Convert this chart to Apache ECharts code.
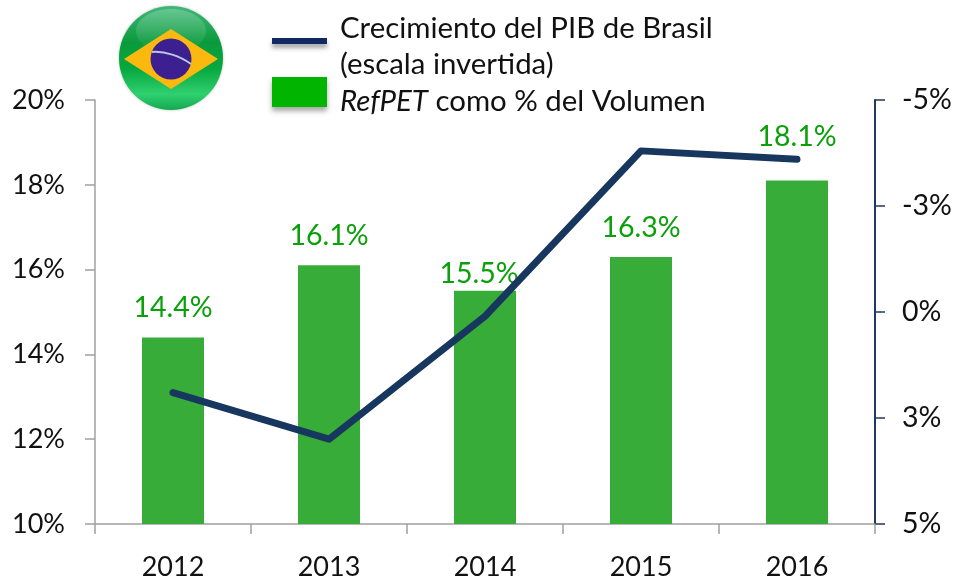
<!DOCTYPE html>
<html><head><meta charset="utf-8">
<style>html,body{margin:0;padding:0;background:#fff}#c{width:955px;height:580px}</style>
<script src="https://cdn.jsdelivr.net/npm/echarts@6/dist/echarts.min.js"></script>
</head><body><div id="c"></div>
<script>
const years = ['2012','2013','2014','2015','2016'];
const refpetShare = [14.4,16.1,15.5,16.3,18.1];
const gdpGrowth = [1.9,3.0,0.1,-3.8,-3.6];
const labelGaps = [15,15,2,15,29];
const labelShifts = [0,0,-6,0,0];
const lineName = 'Crecimiento del PIB de Brasil\n(escala invertida)';
const barName = 'RefPET como % del Volumen';
const FONT = 'Lato';
const chart = echarts.init(document.getElementById('c'), null, {renderer:'canvas'});
chart.setOption({
  animation:false,
  backgroundColor:'#fff',
  textStyle:{fontFamily:FONT},
  grid:{left:95,right:80,top:100,bottom:56,containLabel:false,outerBoundsMode:'none'},
  legend:{
    orient:'vertical',left:272,top:-1,padding:0,itemGap:-19,itemWidth:55,itemHeight:30,
    selectedMode:false,align:'left',symbolKeepAspect:true,
    textStyle:{fontFamily:FONT,fontSize:29.4,lineHeight:36,color:'#111',rich:{i:{fontFamily:FONT,fontSize:29.4,fontStyle:'italic',color:'#111',lineHeight:36}}},
    data:[
      {name:lineName,icon:'path://M0 0H56V6H0Z',
       itemStyle:{color:'#0f2a63',shadowColor:'rgba(0,0,0,.35)',shadowBlur:4,shadowOffsetY:4},
       lineStyle:{width:0},
       textStyle:{padding:[12,0,0,8]}},
      {name:barName,icon:'rect',itemStyle:{color:'#00b400',shadowColor:'rgba(0,0,0,.35)',shadowBlur:5,shadowOffsetY:4},
       textStyle:{padding:[20,0,0,8]}}
    ],
    formatter:n=> n===barName ? '{i|RefPET} como % del Volumen' : n,
  },
  xAxis:{type:'category',data:years,
    axisLine:{onZero:false,lineStyle:{color:'#a0a0a0',width:1.5}},
    axisTick:{show:true,alignWithLabel:false,length:10,lineStyle:{color:'#a0a0a0',width:1.5}},
    axisLabel:{color:'#111',fontSize:27,margin:30,fontFamily:FONT}
  },
  yAxis:[
    {type:'value',min:10,max:20,interval:2,position:'left',splitLine:{show:false},
     axisLine:{show:true,lineStyle:{color:'#a0a0a0',width:1.5}},
     axisTick:{show:true,length:10,lineStyle:{color:'#a0a0a0',width:1.5}},
     axisLabel:{color:'#111',fontSize:27,margin:30,formatter:v=>v+'%',fontFamily:FONT}},
    {type:'value',min:-5,max:5,interval:2.5,inverse:true,position:'right',splitLine:{show:false},
     axisLine:{show:true,onZero:false,lineStyle:{color:'#1f3a5f',width:2}},
     axisTick:{show:true,length:10,lineStyle:{color:'#1f3a5f',width:1.5}},
     axisLabel:{color:'#111',fontSize:28.5,margin:27,padding:[10,0,0,0],formatter:v=>v.toFixed(0)+'%',fontFamily:FONT}}
  ],
  series:[
    {name:barName,type:'bar',yAxisIndex:0,barWidth:62,z:2,
     itemStyle:{color:'#38ac38'},
     data:refpetShare.map((v,i)=>({value:v,label:{distance:labelGaps[i],offset:[labelShifts[i],0]}})),
     label:{show:true,position:'top',color:'#0aa00a',fontSize:28.5,fontFamily:FONT,formatter:p=>p.value.toFixed(1)+'%'}},
    {name:lineName,type:'line',yAxisIndex:1,data:gdpGrowth,z:3,symbol:'none',
     lineStyle:{color:'#17375e',width:7,cap:'round',join:'round'},itemStyle:{color:'#17375e'}}
  ],
  graphic:[{type:'group',silent:true,z:10,children:[
    {type:'circle',shape:{cx:171,cy:58,r:52},style:{fill:{type:'linear',x:0,y:0,x2:0,y2:1,colorStops:[{offset:0,color:'#3fb878'},{offset:0.35,color:'#0a9a3c'},{offset:0.6,color:'#07a83f'},{offset:0.85,color:'#2fd06f'},{offset:1,color:'#14a850'}]},shadowColor:'rgba(0,0,0,.25)',shadowBlur:3}},
    {type:'ellipse',shape:{cx:171,cy:31,rx:35,ry:22},style:{fill:{type:'linear',x:0,y:0,x2:0,y2:1,colorStops:[{offset:0,color:'rgba(255,255,255,.22)'},{offset:1,color:'rgba(255,255,255,.02)'}]}}},
    {type:'polygon',shape:{points:[[171,29],[218,59],[171,89],[124,59]]},style:{fill:'#fbb90f'}},
    {type:'circle',shape:{cx:171,cy:59,r:20.5},style:{fill:'#3c2090'}},
    {type:'bezierCurve',shape:{x1:152,y1:52,x2:191,y2:64,cpx1:165,cpy1:51,cpx2:180,cpy2:56},style:{fill:'none',stroke:'#b8c8e4',lineWidth:2}}
  ]}]
});
</script></body></html>
